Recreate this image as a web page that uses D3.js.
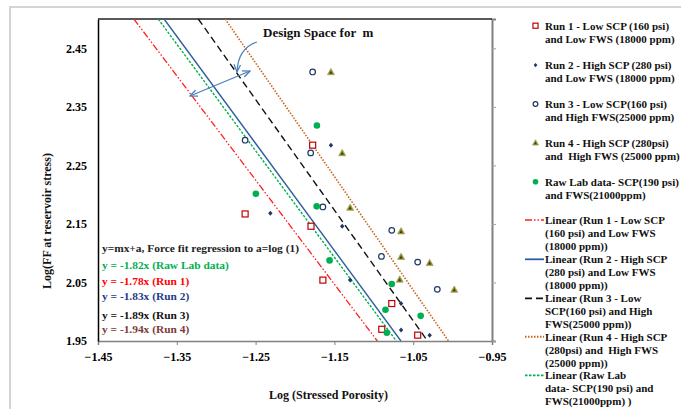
<!DOCTYPE html>
<html><head><meta charset="utf-8">
<script src="https://cdn.jsdelivr.net/npm/d3@7"></script>
<style>body{margin:0;background:#fff;} text{font-family:"Liberation Serif","Times New Roman",serif;font-weight:bold;white-space:pre;}</style>
</head><body><svg id="c" width="681" height="409"></svg>
<script>
// ---- data ----
const xTicks = [-1.45, -1.35, -1.25, -1.15, -1.05, -0.95];
const yTicks = [1.95, 2.05, 2.15, 2.25, 2.35, 2.45];
const run1 = [[-1.2633,2.167],[-1.1797,2.146],[-1.1646,2.054],[-1.0772,2.014],[-1.0899,1.970],[-1.0443,1.960],[-1.1776,2.2845]];
const run2 = [[-1.2313,2.168],[-1.1401,2.146],[-1.1300,2.054],[-1.0654,2.014],[-1.0654,1.969],[-1.0291,1.960],[-1.1544,2.2845]];
const run3 = [[-1.1776,2.4096],[-1.1801,2.2713],[-1.2633,2.293],[-1.1646,2.179],[-1.0772,2.139],[-1.0903,2.0945],[-1.0443,2.0848],[-1.0194,2.0382]];
const run4 = [[-1.1544,2.4096],[-1.1401,2.2713],[-1.1300,2.178],[-1.0654,2.1377],[-1.0654,2.094],[-1.0291,2.0836],[-1.0671,2.0553],[-0.9979,2.038]];
const rawLab = [[-1.1722,2.318],[-1.2497,2.2014],[-1.1725,2.180],[-1.1561,2.0877],[-1.0772,2.0473],[-1.0852,2.0034],[-1.0405,1.993],[-1.0835,1.9642]];
// trendline slopes (y = m x, forced through origin)
const slopeNames = ["Run 1","Run 2","Run 3","Run 4","Raw Lab"];
const slopes = [-1.78, -1.83, -1.89, -1.94, -1.82];
const pointLegend = [
 ["Run 1 - Low SCP (160 psi)","and Low FWS (18000 ppm)"],
 ["Run 2 - High SCP (280 psi)","and Low FWS (18000 ppm)"],
 ["Run 3 - Low SCP(160 psi)","and High FWS(25000 ppm)"],
 ["Run 4 - High SCP (280psi)","and  High FWS (25000 ppm)"],
 ["Raw Lab data- SCP(190 psi)","and FWS(21000ppm)"]];
const lineLegend = [
 ["Linear (Run 1 - Low SCP","(160 psi) and Low FWS","(18000 ppm))"],
 ["Linear (Run 2 - High SCP","(280 psi) and Low FWS","(18000 ppm))"],
 ["Linear (Run 3 - Low","SCP(160 psi) and High","FWS(25000 ppm))"],
 ["Linear (Run 4 - High SCP","(280psi) and  High FWS","(25000 ppm))"],
 ["Linear (Raw Lab","data- SCP(190 psi) and","FWS(21000ppm) )"]];
const eqTexts = [
 ["y=mx+a, Force fit regression to a=log (1)","#222"],
 ["y = -1.82x (Raw Lab data)","#00b050"],
 ["y = -1.78x (Run 1)","#ff0000"],
 ["y = -1.83x (Run 2)","#1f3c88"],
 ["y = -1.89x (Run 3)","#111"],
 ["y = -1.94x (Run 4)","#7b3b3b"]];

// ---- layout ----
const svg = d3.select("#c");
const L=98, R=492, T=19, B=341;
const x = d3.scaleLinear().domain([-1.45,-0.95]).range([L,R]);
const y = d3.scaleLinear().domain([1.95,2.5]).range([B,T]);

svg.append("rect").attr("x",10).attr("y",7).attr("width",690).attr("height",420)
  .attr("fill","none").attr("stroke","#d4d4d4").attr("stroke-width",2);

svg.append("defs").append("clipPath").attr("id","clip").append("rect")
  .attr("x",L).attr("y",T).attr("width",R-L).attr("height",B-T);

// axes
const xAxis = svg.append("g").attr("transform",`translate(0,${B})`)
  .call(d3.axisBottom(x).tickValues(xTicks).tickFormat(d3.format(".2f")).tickSize(4));
xAxis.select(".domain").attr("stroke","#808080").attr("stroke-width",1.5);
xAxis.selectAll(".tick line").attr("stroke","#808080");
xAxis.selectAll(".tick text").attr("font-size",12).attr("fill","#000").attr("dy","1.1em")
  .style("font-family","Liberation Serif").style("font-weight","bold");

const yAxis = svg.append("g").attr("transform",`translate(${L},0)`)
  .call(d3.axisLeft(y).tickValues(yTicks).tickFormat(d3.format(".2f")).tickSize(0).tickPadding(11));
yAxis.select(".domain").attr("stroke","#000").attr("stroke-width",1.5);
yAxis.selectAll(".tick text").attr("font-size",12).attr("fill","#000")
  .style("font-family","Liberation Serif").style("font-weight","bold");

const yAxisR = svg.append("g").attr("transform",`translate(${R},0)`)
  .call(d3.axisRight(y).tickValues(yTicks).tickFormat("").tickSize(4));
yAxisR.select(".domain").attr("stroke","#808080").attr("stroke-width",2);
yAxisR.selectAll(".tick line").attr("stroke","#a0a0a0");

svg.append("line").attr("x1",L).attr("x2",R).attr("y1",T).attr("y2",T)
  .attr("stroke","#222").attr("stroke-width",1.5);

// trendlines
const lineStyles = [
 {c:"#ff2020",d:"7,2,1.5,2,1.5,2",w:1.3},
 {c:"#2e5e9e",d:null,w:1.4},
 {c:"#111",d:"7,4",w:1.4},
 {c:"#c8641e",d:"1.5,1.5",w:1.6},
 {c:"#00b050",d:"2.5,1.5",w:1.4}];
const gl = svg.append("g").attr("clip-path","url(#clip)");
slopes.forEach((m,i)=>{
  const y0 = y.domain()[1], y1 = y.domain()[0];
  const s = lineStyles[i];
  gl.append("line")
    .attr("x1",x(y0/m)).attr("y1",y(y0)).attr("x2",x(y1/m)).attr("y2",y(y1))
    .attr("stroke",s.c).attr("stroke-width",s.w).attr("stroke-dasharray",s.d);
});

// markers
function drawMarker(g, type, cx, cy, k){
  k = k||1;
  if(type===0) g.append("rect").attr("x",cx-3*k).attr("y",cy-3*k).attr("width",6*k).attr("height",6*k)
      .attr("fill","#fff").attr("stroke","#c00000").attr("stroke-width",1.2);
  else if(type===1) g.append("path").attr("d",`M${cx},${cy-2.5*k}L${cx+2.2*k},${cy}L${cx},${cy+2.5*k}L${cx-2.2*k},${cy}Z`)
      .attr("fill","#1f3864");
  else if(type===2) g.append("circle").attr("cx",cx).attr("cy",cy).attr("r",2.8*k)
      .attr("fill","#fff").attr("stroke","#1f3864").attr("stroke-width",1.2);
  else if(type===3) g.append("path").attr("d",`M${cx},${cy-3.5*k}L${cx+3.5*k},${cy+2.8*k}L${cx-3.5*k},${cy+2.8*k}Z`)
      .attr("fill","#8a8c2c").attr("stroke","#9aa85a").attr("stroke-width",0.8)
      .clone().attr("d",`M${cx},${cy-1.2*k}L${cx+1.4*k},${cy+1.8*k}L${cx-1.4*k},${cy+1.8*k}Z`).attr("fill","#5a2a10").attr("stroke","none");
  else g.append("circle").attr("cx",cx).attr("cy",cy).attr("r",3.3*k).attr("fill","#00b050");
}
const series=[run1,run2,run3,run4,rawLab];
const gm = svg.append("g");
series.forEach((s,i)=>s.forEach(p=>drawMarker(gm,i,x(p[0]),y(p[1]))));

// equation texts
const eqY=[248,265,281,296,315,329];
eqTexts.forEach((t,i)=>{
  svg.append("text").attr("x",102).attr("y",eqY[i]).attr("dy","0.35em")
    .attr("font-size",11.4).attr("fill",t[1]).text(t[0]);
});

// annotation
svg.append("text").attr("x",263).attr("y",37).attr("font-size",13).attr("fill","#111").text("Design Space for  m");
const defs = svg.select("defs");
defs.append("marker").attr("id","ah").attr("viewBox","0 0 10 10").attr("refX",9).attr("refY",5)
  .attr("markerWidth",7).attr("markerHeight",7).attr("orient","auto-start-reverse")
  .append("path").attr("d","M0,1L9,5L0,9").attr("fill","none").attr("stroke","#4a7ebb").attr("stroke-width",1.5);
svg.append("path").attr("d","M257,42 Q238,48 237,72").attr("fill","none")
  .attr("stroke","#4a7ebb").attr("stroke-width",1.2).attr("marker-end","url(#ah)");
svg.append("line").attr("x1",190).attr("y1",96).attr("x2",250).attr("y2",71)
  .attr("stroke","#4a7ebb").attr("stroke-width",1.2).attr("marker-start","url(#ah)").attr("marker-end","url(#ah)");

// legend - points
const pY=[25.7,65,104,142.7,181.7];
pointLegend.forEach((lines,i)=>{
  drawMarker(svg,i,535.5,pY[i],0.85);
  lines.forEach((t,j)=>svg.append("text").attr("x",545).attr("y",pY[i]+j*13.5).attr("dy","0.35em")
    .attr("font-size",11).attr("fill","#111").text(t));
});
// legend - lines
const lY=[220,259.3,298.3,336.7,375.3];
lineLegend.forEach((lines,i)=>{
  const s=lineStyles[i];
  svg.append("line").attr("x1",525).attr("x2",544).attr("y1",lY[i]).attr("y2",lY[i])
    .attr("stroke",s.c).attr("stroke-width",s.w+0.4).attr("stroke-dasharray",s.d);
  lines.forEach((t,j)=>svg.append("text").attr("x",545).attr("y",lY[i]+j*13).attr("dy","0.35em")
    .attr("font-size",11).attr("fill","#111").text(t));
});

// axis titles
svg.append("text").attr("x",328.5).attr("y",399).attr("text-anchor","middle").attr("font-size",12)
  .attr("fill","#111").text("Log (Stressed Porosity)");
svg.append("text").attr("transform","translate(51,221) rotate(-90)").attr("text-anchor","middle")
  .attr("font-size",12).attr("fill","#111").text("Log(FF at reservoir stress)");
</script></body></html>
